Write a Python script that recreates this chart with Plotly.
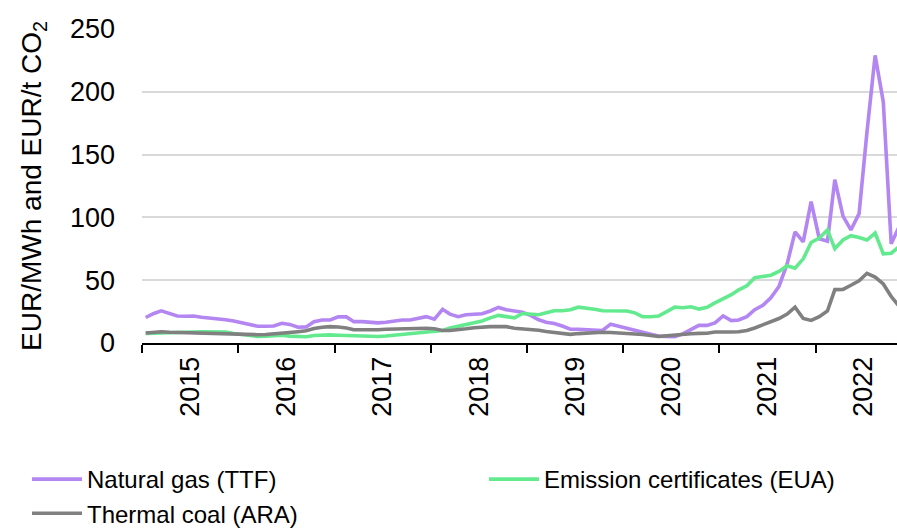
import pandas as pd
import plotly.graph_objects as go

months = pd.date_range("2015-01-01", periods=95, freq="MS") + pd.Timedelta(days=14)
dates = [d.strftime("%Y-%m-%d") for d in months]

ttf = [20.3, 23.5, 25.6, 23.5, 21.5, 21.3, 21.5, 20.5, 20.0, 19.5, 18.5, 17.5,
       16.0, 14.5, 13.3, 13.3, 13.5, 15.7, 14.8, 12.5, 12.8, 17.0, 18.3, 18.3,
       20.8, 20.8, 17.0, 17.0, 16.5, 16.0, 16.5, 17.5, 18.3, 18.3, 19.5, 21.0,
       19.0, 26.8, 23.0, 20.9, 22.5, 23.0, 23.3, 25.5, 28.3, 26.5, 25.5, 24.5,
       22.0, 18.5, 16.5, 15.5, 13.5, 11.0, 11.0, 10.5, 10.0, 10.0, 15.0, 13.3,
       11.5, 9.8, 8.2, 7.0, 5.5, 5.0, 5.0, 7.2, 10.8, 14.0, 14.0, 16.0,
       21.5, 17.8, 18.3, 21.0, 26.5, 30.0, 36.0, 45.0, 63.0, 88.5, 80.5, 112.5,
       83.0, 81.0, 130.0, 101.0, 90.0, 103.0, 168.0, 229.0, 192.0, 79.0, 93.0]

eua = [7.7, 8.0, 8.2, 8.4, 8.5, 8.6, 8.8, 9.0, 9.0, 9.0, 8.8, 7.5,
       6.5, 5.5, 5.2, 5.5, 6.0, 6.2, 5.5, 5.0, 5.0, 6.0, 6.5, 6.5,
       6.2, 6.0, 5.2, 5.0, 5.0, 5.2, 5.6, 6.2, 7.0, 7.7, 8.0, 8.2,
       9.0, 10.0, 12.0, 13.5, 15.0, 16.0, 17.5, 20.0, 22.0, 21.0, 20.0, 23.5,
       23.0, 22.5, 24.0, 25.7, 25.7, 26.5, 28.5, 27.8, 26.8, 25.7, 25.5, 26.0,
       25.5, 24.0, 21.0, 20.9, 21.5, 25.0, 28.5, 28.1, 28.8, 27.0, 28.5, 32.0,
       35.0, 38.5, 42.3, 45.5, 52.0, 53.0, 54.0, 57.0, 61.5, 59.5, 67.0, 80.0,
       83.5, 90.0, 75.0, 82.0, 85.4, 84.0, 82.0, 87.5, 71.0, 71.5, 77.0]

coal = [8.0, 8.7, 9.0, 8.5, 8.3, 8.4, 8.4, 8.3, 8.0, 7.8, 7.4, 7.2,
        7.0, 6.6, 6.6, 6.8, 7.2, 7.6, 8.2, 9.0, 9.7, 11.5, 12.5, 13.0,
        12.7, 12.0, 10.5, 10.3, 10.3, 10.6, 11.0, 11.2, 11.4, 11.6, 11.9, 11.7,
        11.3, 10.0, 10.0, 10.3, 11.3, 12.2, 12.7, 13.0, 13.0, 13.0, 11.8, 11.5,
        11.2, 10.2, 9.2, 8.3, 7.5, 6.9, 7.5, 8.0, 8.3, 8.5, 8.4, 8.2,
        7.6, 7.2, 6.8, 5.8, 5.2, 5.8, 6.5, 7.0, 7.4, 7.7, 7.8, 8.8,
        8.5, 8.7, 9.0, 10.0, 12.0, 14.5, 17.0, 19.5, 23.0, 28.5, 19.5, 18.0,
        21.0, 25.5, 42.5, 42.7, 46.0, 49.5, 55.5, 52.5, 47.0, 37.0, 29.0]

series_names = ["Natural gas (TTF)", "Emission certificates (EUA)", "Thermal coal (ARA)"]
series_colors = ["#B386F2", "#63EA8F", "#808080"]
series_values = [ttf, eua, coal]
series_legends = ["legend", "legend2", "legend"]

FONT = "Liberation Sans, Arial, sans-serif"

fig = go.Figure()
for name, color, vals, lg in zip(series_names, series_colors, series_values, series_legends):
    fig.add_trace(go.Scatter(x=dates, y=vals, mode="lines", name=name, legend=lg,
                             line=dict(color=color, width=3.6)))

legend_common = dict(orientation="v", xanchor="left", yanchor="top",
                     itemwidth=50, font=dict(size=24),
                     bgcolor="rgba(0,0,0,0)", traceorder="normal")

fig.update_layout(
    width=897, height=528,
    margin=dict(l=142, r=0, t=29, b=185, autoexpand=False),
    paper_bgcolor="white", plot_bgcolor="white",
    font=dict(family=FONT, size=26, color="black"),
    showlegend=True,
    legend=dict(x=-0.1523, y=-0.3630, **legend_common),
    legend2=dict(x=(484 - 142) / 755, y=-0.3630, **legend_common),
    xaxis=dict(type="date", range=["2015-01-01", "2022-11-06"],
               dtick="M12", tick0="2015-01-01", tickformat="%Y",
               ticklabelmode="period", tickangle=-90, tickfont=dict(size=27),
               showgrid=False, showline=True, linecolor="black", linewidth=2,
               ticks="outside", ticklen=8, tickwidth=2, tickcolor="black",
               ticklabelstandoff=-7, zeroline=False, automargin=False),
    yaxis=dict(range=[0, 250], dtick=50, showgrid=True, gridcolor="#D9D9D9", gridwidth=1.5,
               zeroline=False, showline=False, ticks="", tickfont=dict(size=27),
               ticklabelstandoff=26, automargin=False,
               title=dict(text="EUR/MWh and EUR/t CO<sub>2</sub>", standoff=20,
                          font=dict(size=28))),
)

fig.write_html(
    "out.html",
    config={"displayModeBar": False},
    post_script="document.body.style.margin='0';document.documentElement.style.overflow='hidden';",
)
